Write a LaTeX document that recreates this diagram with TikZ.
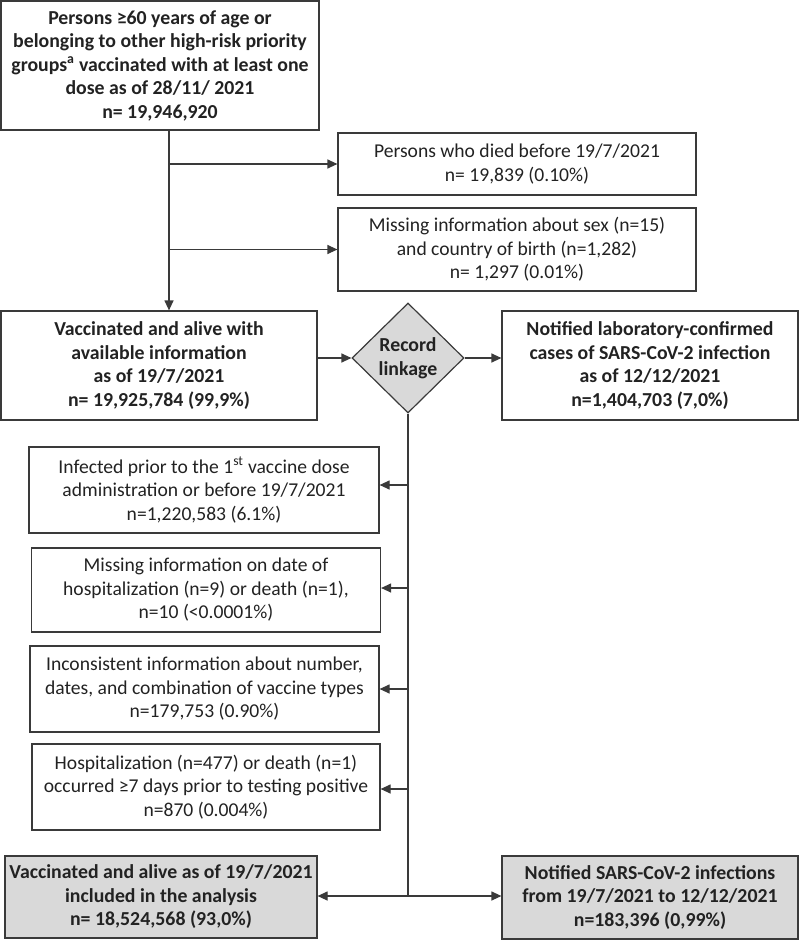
\documentclass[tikz,border=0pt]{standalone}
\usepackage{fontspec}
\setmainfont{Carlito}
\usetikzlibrary{arrows.meta,shapes.geometric}
\definecolor{lc}{HTML}{3A3A3A}
\definecolor{tc}{HTML}{222222}
\definecolor{gf}{HTML}{D9D9D9}
\begin{document}
\begin{tikzpicture}[x=1pt,y=-1pt,
  box/.style={draw=lc,line width=1.2pt,rectangle,inner sep=0pt,align=center,text=tc,
    font=\fontsize{19.6}{23.5}\selectfont},
  bbox/.style={box,font=\fontsize{19.8}{23.5}\selectfont\bfseries},
  gbox/.style={bbox,fill=gf},
  link/.style={draw=lc,line width=1.2pt},
  arr/.style={link,-{Triangle[length=10pt,width=9pt]}}]
\useasboundingbox (0,0) rectangle (800,941);
% top
\node[bbox,minimum width=318pt,minimum height=129pt] (b1) at (160,65.5)
  {Persons ≥60 years of age or\\belonging to other high-risk priority\\groups\textsuperscript{a} vaccinated with at least one\\dose as of 28/11/ 2021\\n= 19,946,920};
\node[box,minimum width=358pt,minimum height=62pt] (e1) at (517,164)
  {Persons who died before 19/7/2021\\n= 19,839 (0.10\%)};
\node[box,minimum width=358pt,minimum height=83pt] (e2) at (517,249.5)
  {Missing information about sex (n=15)\\and country of birth (n=1,282)\\n= 1,297 (0.01\%)};
\node[bbox,minimum width=316pt,minimum height=109pt] (b2) at (159,365.5)
  {Vaccinated and alive with\\available information\\as of 19/7/2021\\n= 19,925,784 (99,9\%)};
\node[draw=lc,line width=1.2pt,diamond,fill=gf,inner sep=0pt,minimum width=112pt,minimum height=110pt,
  align=center,text=tc,font=\fontsize{19.8}{23.5}\selectfont\bfseries] (d) at (408,358)
  {Record\\linkage};
\node[bbox,minimum width=296pt,minimum height=109pt] (r) at (650,365.5)
  {Notified laboratory-confirmed\\cases of SARS-CoV-2 infection\\as of 12/12/2021\\n=1,404,703 (7,0\%)};
% left exclusions
\node[box,minimum width=350pt,minimum height=86pt] (eA) at (204,490)
  {Infected prior to the 1\textsuperscript{st} vaccine dose\\administration or before 19/7/2021\\n=1,220,583 (6.1\%)};
\node[box,minimum width=349pt,minimum height=84pt] (eB) at (206,590)
  {Missing information on date of\\hospitalization (n=9) or death (n=1),\\n=10 (<0.0001\%)};
\node[box,minimum width=349pt,minimum height=86pt] (eC) at (204.5,689)
  {Inconsistent information about number,\\dates, and combination of vaccine types\\n=179,753 (0.90\%)};
\node[box,minimum width=348pt,minimum height=86pt] (eD) at (206,787)
  {Hospitalization (n=477) or death (n=1)\\occurred ≥7 days prior to testing positive\\n=870 (0.004\%)};
% final
\node[gbox,minimum width=312pt,minimum height=82pt] (fl) at (161,897)
  {Vaccinated and alive as of 19/7/2021\\included in the analysis\\n= 18,524,568 (93,0\%)};
\node[gbox,minimum width=296pt,minimum height=83pt] (fr) at (650,897.5)
  {Notified SARS-CoV-2 infections\\from 19/7/2021 to 12/12/2021\\n=183,396 (0,99\%)};
% connectors
\coordinate (v1) at (169,0);
\coordinate (j) at (408,896);
\draw[arr] (b1.south -| v1) -- (b2.north -| v1);
\draw[arr] (e1.west -| v1) -- (e1.west);
\draw[arr] (e2.west -| v1) -- (e2.west);
\draw[arr] (d.west -| b2.east) -- (d.west);
\draw[arr] (d.east) -- (d.east -| r.west);
\draw[link] (d.south) -- (j);
\draw[arr] ([yshift=5pt]eA.east -| j) -- ([yshift=5pt]eA.east);
\draw[arr] ([yshift=2pt]eB.east -| j) -- ([yshift=2pt]eB.east);
\draw[arr] (eC.east -| j) -- (eC.east);
\draw[arr] ([yshift=-2pt]eD.east -| j) -- ([yshift=-2pt]eD.east);
\draw[arr] (j) -- (j -| fl.east);
\draw[arr] (j) -- (j -| fr.west);
\end{tikzpicture}
\end{document}
